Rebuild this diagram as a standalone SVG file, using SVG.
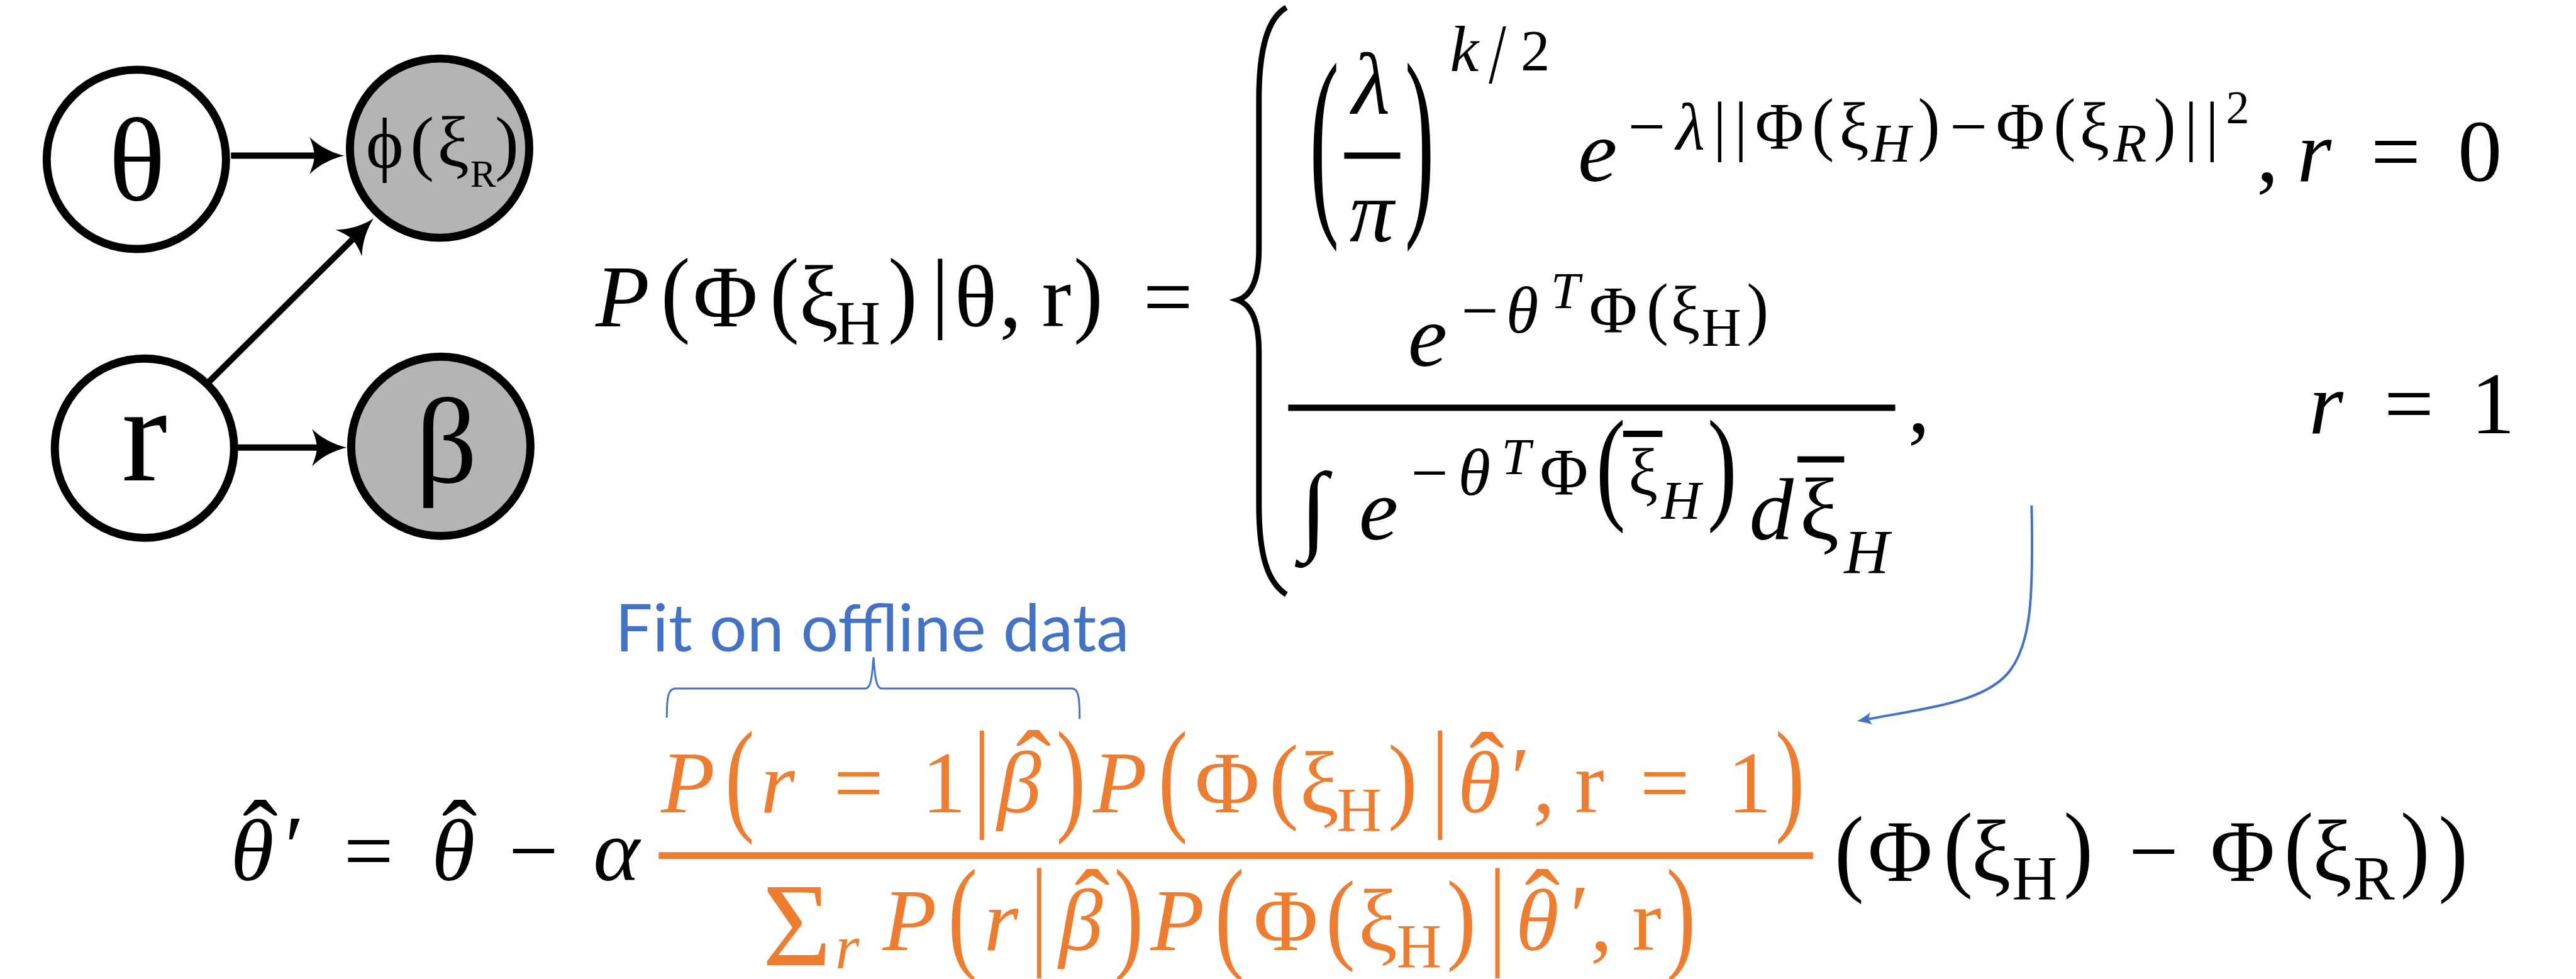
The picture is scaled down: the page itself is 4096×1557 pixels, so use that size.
<svg xmlns="http://www.w3.org/2000/svg" width="4096" height="1557" viewBox="0 0 4096 1557">
<style>
.f{font-family:"Liberation Serif","DejaVu Serif",serif}
.i{font-style:italic}
.o{fill:#ED7D31}
.node{stroke:#000;stroke-width:13}
.w{fill:#fff}
.g{fill:#B4B4B4}
.edge{stroke:#000;stroke-width:10;fill:none}
.rule{stroke:#000;stroke-width:10}
.orule{stroke:#ED7D31;stroke-width:11}
.blue{stroke:#4472C4;fill:none}
</style>
<defs>
<marker id="ah" markerUnits="userSpaceOnUse" viewBox="-20 -40 80 80" markerWidth="80" markerHeight="80" refX="0" refY="0" orient="auto" overflow="visible">
<path d="M48,0 C30,4 8,14 -8,30 C-2,16 0,6 0,0 C0,-6 -2,-16 -8,-30 C8,-14 30,-4 48,0 Z" fill="#000"/>
</marker>
<marker id="ahb" markerUnits="userSpaceOnUse" viewBox="-10 -15 40 30" markerWidth="40" markerHeight="30" refX="0" refY="0" orient="auto" overflow="visible">
<path d="M20,0 C13,2 4,6 -4,10 C-1,6 0,2 0,0 C0,-2 -1,-6 -4,-10 C4,-6 13,-2 20,0 Z" fill="#4472C4"/>
</marker>
</defs>
<rect width="4096" height="1557" fill="#fff"/>
<g transform="scale(0.99)">
<g id="connectors">
<line class="edge" x1="371" y1="250" x2="505" y2="250" marker-end="url(#ah)"/>
<line class="edge" x1="382" y1="719" x2="509" y2="719" marker-end="url(#ah)"/>
<line class="edge" x1="336" y1="613" x2="565.9" y2="384.8" marker-end="url(#ah)"/>
<path class="blue" stroke-width="4" d="M3263,812 C3266,960 3262,1030 3230,1075 C3195,1125 3110,1135 3002,1155" marker-end="url(#ahb)"/>
</g>
<g id="node-theta">
<circle class="node w" cx="219" cy="256" r="144"/>
<text class="f" font-size="190" text-anchor="middle" x="220" y="321">θ</text>
</g>
<g id="node-phi">
<circle class="node g" cx="706" cy="238" r="144"/>
<text class="f" font-size="115" text-anchor="middle"><tspan x="618" y="270">ϕ</tspan><tspan x="678" y="268">(</tspan><tspan x="728" y="268">ξ</tspan><tspan x="776" y="300" font-size="62">R</tspan><tspan x="814" y="268">)</tspan></text>
</g>
<g id="node-r">
<circle class="node w" cx="232" cy="720" r="144"/>
<text class="f" font-size="220" text-anchor="middle" x="232" y="772">r</text>
</g>
<g id="node-beta">
<circle class="node g" cx="708" cy="717" r="144"/>
<text class="f" font-size="195" text-anchor="middle" x="717" y="775">β</text>
</g>
<g id="eq-likelihood" class="f">
<text font-size="142" text-anchor="middle"><tspan class="i" x="1000" y="524">P</tspan><tspan x="1165" y="524">Φ</tspan><tspan x="1315" y="524">ξ</tspan><tspan x="1378" y="553" font-size="100">H</tspan><tspan x="1567" y="524">θ</tspan><tspan x="1623" y="524">,</tspan><tspan x="1697" y="524">r</tspan><tspan x="1876" y="524">=</tspan></text>
<text font-size="142" text-anchor="middle" transform="matrix(1 0 0 1.09 1085 521.6)">(</text>
<text font-size="142" text-anchor="middle" transform="matrix(1 0 0 1.09 1260 521.6)">(</text>
<text font-size="142" text-anchor="middle" transform="matrix(1 0 0 1.09 1450 521.6)">)</text>
<text font-size="142" text-anchor="middle" transform="matrix(1 0 0 1.09 1748 521.6)">)</text>
<text font-size="142" text-anchor="middle" transform="matrix(1 0 0 1.01 1510 516)">|</text>
<path d="M2066,12 C2035,30 2022,80 2022,160 L2022,400 C2022,450 2010,475 1988,482 C2010,490 2022,515 2022,565 L2022,810 C2022,890 2035,935 2066,955" fill="none" stroke="#000" stroke-width="9"/>
<!-- case r = 0 -->
<text font-size="142" text-anchor="middle" transform="matrix(1 0 0 2.36 2127 333)">(</text>
<text font-size="142" text-anchor="middle" transform="matrix(1 0 0 2.36 2280 333)">)</text>
<line class="rule" x1="2159" y1="250" x2="2249" y2="250" stroke-width="11"/>
<text font-size="142" text-anchor="middle"><tspan class="i" x="2202" y="183">λ</tspan><tspan class="i" x="2203" y="388">π</tspan><tspan class="i" x="2352" y="114" font-size="104">k</tspan><tspan x="2466" y="113" font-size="94">2</tspan><tspan class="i" x="2566" y="291">e</tspan></text>
<text font-size="100" text-anchor="middle" transform="matrix(1 0 0 1.377 2405 133)">/</text>
<text font-size="107" text-anchor="middle"><tspan x="2645" y="239">−</tspan><tspan class="i" x="2715" y="239">λ</tspan><tspan x="2858" y="239">Φ</tspan><tspan x="2978" y="239">ξ</tspan><tspan class="i" x="3037" y="260" font-size="88">H</tspan><tspan x="3162" y="239">−</tspan><tspan x="3245" y="239">Φ</tspan><tspan x="3364" y="239">ξ</tspan><tspan class="i" x="3421" y="260" font-size="88">R</tspan><tspan x="3594" y="198" font-size="75">2</tspan></text>
<text font-size="107" text-anchor="middle" transform="matrix(1 0 0 1.0 2762 237)">|</text>
<text font-size="107" text-anchor="middle" transform="matrix(1 0 0 1.0 2796 237)">|</text>
<text font-size="107" text-anchor="middle" transform="matrix(1 0 0 1.0 3519 237)">|</text>
<text font-size="107" text-anchor="middle" transform="matrix(1 0 0 1.0 3553 237)">|</text>
<text font-size="107" text-anchor="middle" transform="matrix(1 0 0 1.055 2928 236.3)">(</text>
<text font-size="107" text-anchor="middle" transform="matrix(1 0 0 1.055 3098 236.3)">)</text>
<text font-size="107" text-anchor="middle" transform="matrix(1 0 0 1.055 3316 236.3)">(</text>
<text font-size="107" text-anchor="middle" transform="matrix(1 0 0 1.055 3477 236.3)">)</text>
<text font-size="142" text-anchor="middle"><tspan x="3642" y="291">,</tspan><tspan class="i" x="3717" y="291">r</tspan><tspan x="3848" y="291">=</tspan><tspan x="3983" y="291">0</tspan></text>
<!-- case r = 1 -->
<text font-size="142" text-anchor="middle"><tspan class="i" x="2293" y="588">e</tspan></text>
<text font-size="106" text-anchor="middle"><tspan x="2377" y="534">−</tspan><tspan class="i" x="2445" y="534">θ</tspan><tspan class="i" x="2514" y="495" font-size="84">T</tspan><tspan x="2591" y="534">Φ</tspan><tspan x="2707" y="534">ξ</tspan><tspan x="2765" y="556" font-size="88">H</tspan></text>
<text font-size="106" text-anchor="middle" transform="matrix(1 0 0 1.051 2662 532.3)">(</text>
<text font-size="106" text-anchor="middle" transform="matrix(1 0 0 1.051 2823 532.3)">)</text>
<line class="rule" x1="2069" y1="655" x2="3044" y2="655" stroke-width="11"/>
<text font-size="160" text-anchor="middle" x="2110" y="870">∫</text>
<text font-size="142" text-anchor="middle"><tspan class="i" x="2214" y="867">e</tspan><tspan class="i" x="2845" y="867">d</tspan><tspan x="2922" y="866">ξ</tspan><tspan class="i" x="2998" y="920" font-size="100">H</tspan></text>
<text font-size="106" text-anchor="middle"><tspan x="2296" y="795">−</tspan><tspan class="i" x="2368" y="795">θ</tspan><tspan class="i" x="2435" y="762" font-size="84">T</tspan><tspan x="2512" y="795">Φ</tspan><tspan x="2639" y="795">ξ</tspan><tspan class="i" x="2700" y="833" font-size="88">H</tspan></text>
<line class="rule" x1="2607" y1="697" x2="2670" y2="697" stroke-width="9"/>
<line class="rule" x1="2887" y1="738" x2="2962" y2="738" stroke-width="9"/>
<text font-size="142" text-anchor="middle" transform="matrix(1 0 0 1.412 2587 814.6)">(</text>
<text font-size="142" text-anchor="middle" transform="matrix(1 0 0 1.412 2766 814.6)">)</text>
<text font-size="142" text-anchor="middle"><tspan x="3082" y="694">,</tspan><tspan class="i" x="3736" y="696">r</tspan><tspan x="3869" y="696">=</tspan><tspan x="4004" y="696">1</tspan></text>
</g>
<g id="label-fit">
<text x="988" y="1046" font-family="Lato, 'Open Sans', sans-serif" font-size="105" fill="#4472C4" textLength="826" lengthAdjust="spacingAndGlyphs">Fit on offline data</text>
<path class="blue" stroke-width="3" d="M1071,1153 C1071,1120 1073,1106 1085,1106 L1390,1106 C1400,1106 1401,1080 1403,1056 C1405,1080 1406,1106 1416,1106 L1722,1106 C1732,1106 1734,1120 1734,1155"/>
</g>
<g id="eq-update" class="f">
<text font-size="142" text-anchor="middle"><tspan class="i" x="405" y="1414">θ</tspan><tspan x="473" y="1408">′</tspan><tspan x="592" y="1414">=</tspan><tspan class="i" x="728" y="1414">θ</tspan><tspan x="857" y="1414">−</tspan><tspan class="i" x="990" y="1414">α</tspan></text>
<text font-size="170" text-anchor="middle"><tspan x="418" y="1403">ˆ</tspan><tspan x="738" y="1403">ˆ</tspan></text>
<line class="orule" x1="1058" y1="1374.5" x2="2912" y2="1374.5"/>
<g class="o">
<text font-size="142" text-anchor="middle"><tspan class="i" x="1105" y="1305">P</tspan><tspan class="i" x="1249" y="1305">r</tspan><tspan x="1379" y="1305">=</tspan><tspan x="1516" y="1305">1</tspan><tspan class="i" x="1637" y="1305">β</tspan><tspan class="i" x="1799" y="1305">P</tspan><tspan x="1971" y="1305">Φ</tspan><tspan x="2119" y="1305">ξ</tspan><tspan x="2183" y="1334" font-size="100">H</tspan><tspan class="i" x="2376" y="1305">θ</tspan><tspan x="2442" y="1298">′</tspan><tspan x="2480" y="1305">,</tspan><tspan x="2553" y="1305">r</tspan><tspan x="2674" y="1305">=</tspan><tspan x="2810" y="1305">1</tspan></text>
<text font-size="170" text-anchor="middle"><tspan x="1660" y="1291">ˆ</tspan><tspan x="2388" y="1294">ˆ</tspan><tspan x="1754" y="1514">ˆ</tspan><tspan x="2477" y="1514">ˆ</tspan></text>
<text font-size="142" text-anchor="middle" transform="matrix(1 0 0 1.42 1188 1314.3)">(</text>
<text font-size="142" text-anchor="middle" transform="matrix(1 0 0 1.42 1720 1314.3)">)</text>
<text font-size="142" text-anchor="middle" transform="matrix(1 0 0 1.42 1884 1314.3)">(</text>
<text font-size="142" text-anchor="middle" transform="matrix(1 0 0 1.082 2062 1302.9)">(</text>
<text font-size="142" text-anchor="middle" transform="matrix(1 0 0 1.082 2253 1302.9)">)</text>
<text font-size="142" text-anchor="middle" transform="matrix(1 0 0 1.42 2875 1314.3)">)</text>
<text font-size="142" text-anchor="middle" transform="matrix(1 0 0 1.364 1577 1308)">|</text>
<text font-size="142" text-anchor="middle" transform="matrix(1 0 0 1.364 2313 1308)">|</text>
<text font-size="142" text-anchor="middle"><tspan x="1280" y="1551" font-size="190">Σ</tspan><tspan class="i" x="1361" y="1556" font-size="100">r</tspan><tspan class="i" x="1461" y="1526">P</tspan><tspan class="i" x="1608" y="1526">r</tspan><tspan class="i" x="1736" y="1526">β</tspan><tspan class="i" x="1891" y="1526">P</tspan><tspan x="2065" y="1526">Φ</tspan><tspan x="2213" y="1526">ξ</tspan><tspan x="2279" y="1554" font-size="100">H</tspan><tspan class="i" x="2469" y="1526">θ</tspan><tspan x="2537" y="1519">′</tspan><tspan x="2572" y="1526">,</tspan><tspan x="2645" y="1526">r</tspan></text>
<text font-size="142" text-anchor="middle" transform="matrix(1 0 0 1.42 1546 1535.3)">(</text>
<text font-size="142" text-anchor="middle" transform="matrix(1 0 0 1.42 1813 1535.3)">)</text>
<text font-size="142" text-anchor="middle" transform="matrix(1 0 0 1.42 1975 1535.3)">(</text>
<text font-size="142" text-anchor="middle" transform="matrix(1 0 0 1.14 2153 1527.4)">(</text>
<text font-size="142" text-anchor="middle" transform="matrix(1 0 0 1.14 2347 1527.4)">)</text>
<text font-size="142" text-anchor="middle" transform="matrix(1 0 0 1.42 2700 1535.3)">)</text>
<text font-size="142" text-anchor="middle" transform="matrix(1 0 0 1.372 1669 1529.7)">|</text>
<text font-size="142" text-anchor="middle" transform="matrix(1 0 0 1.372 2405 1529.7)">|</text>
</g>
<text font-size="142" text-anchor="middle"><tspan x="3052" y="1415">Φ</tspan><tspan x="3198" y="1415">ξ</tspan><tspan x="3268" y="1444" font-size="100">H</tspan><tspan x="3459" y="1415">−</tspan><tspan x="3602" y="1415">Φ</tspan><tspan x="3746" y="1415">ξ</tspan><tspan x="3813" y="1444" font-size="100">R</tspan></text>
<text font-size="142" text-anchor="middle" transform="matrix(1 0 0 1.098 2970 1419.4)">(</text>
<text font-size="142" text-anchor="middle" transform="matrix(1 0 0 1.09 3145 1412.6)">(</text>
<text font-size="142" text-anchor="middle" transform="matrix(1 0 0 1.09 3338 1412.6)">)</text>
<text font-size="142" text-anchor="middle" transform="matrix(1 0 0 1.09 3692 1412.6)">(</text>
<text font-size="142" text-anchor="middle" transform="matrix(1 0 0 1.09 3879 1412.6)">)</text>
<text font-size="142" text-anchor="middle" transform="matrix(1 0 0 1.098 3940 1419.4)">)</text>
</g>
</g>
</svg>
